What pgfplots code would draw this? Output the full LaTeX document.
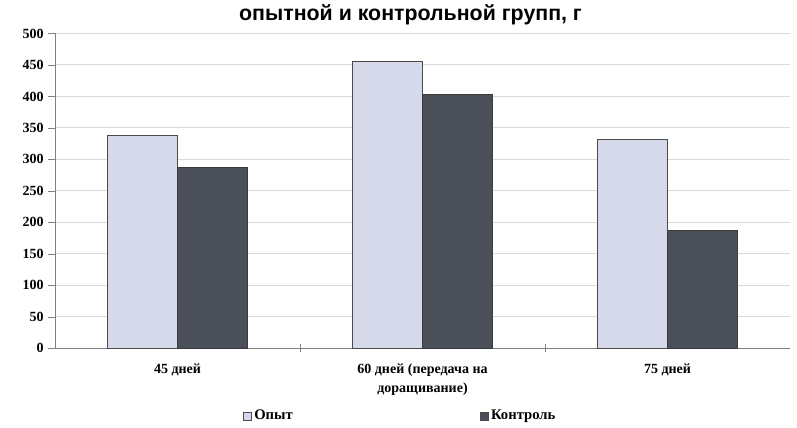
\documentclass[border=0pt]{standalone}
\usepackage{pgfplots}
\pgfplotsset{compat=1.18}
\usepackage{fontspec}
\setmainfont{Liberation Serif}
\newfontfamily\titlefont{Liberation Sans}
\definecolor{opyt}{HTML}{D5D9EA}
\definecolor{kontr}{HTML}{4B4F5A}
\definecolor{edge}{HTML}{4A4A4A}
\begin{document}
\begin{tikzpicture}
\begin{axis}[
  scale only axis,
  width=551pt, height=236pt,
  ybar=0pt, bar width=0.2857,
  xmin=-0.5, xmax=2.5,
  ymin=0, ymax=500,
  ytick={0,50,...,500},
  xtick={0,1,2},
  xticklabels={45 дней, 60 дней (передача на\\доращивание), 75 дней},
  xticklabel style={align=center, font=\bfseries\fontsize{10.5}{14}\selectfont, yshift=-3pt},
  yticklabel style={font=\bfseries\fontsize{10.5}{12}\selectfont},
  /pgf/number format/assume math mode=true,
  axis lines*=left,
  axis line style={gray},
  x axis line style={-}, y axis line style={-},
  tick style={gray},
  tick align=outside,
  major tick length=5pt,
  x tick style={draw=none},
  extra x ticks={0.5,1.5},
  extra x tick labels={},
  extra x tick style={x tick style={draw=gray}, tick align=center, major tick length=6pt, grid=none},
  ymajorgrids,
  grid style={gray!28, line width=0.7pt},
  legend columns=2,
  legend style={draw=none, fill=none, at={(0.47,-0.215)}, anchor=center,
    font=\bfseries\fontsize{11}{12}\selectfont,
    /tikz/every even column/.append style={column sep=138pt}},
  legend image code/.code={\draw[#1, draw=edge] (0pt,-3pt) rectangle (6pt,3pt);},
]
\addplot[fill=opyt, draw=edge, line width=0.6pt] coordinates {(0,338) (1,456) (2,332)};
\addplot[fill=kontr, draw=edge!80!black, line width=0.6pt] coordinates {(0,287) (1,403) (2,187)};
\legend{Опыт, Контроль}
\end{axis}
\node[anchor=south, font=\titlefont\bfseries\fontsize{16}{18}\selectfont] at ([xshift=-9pt, yshift=3pt]current axis.north) {опытной и контрольной групп, г};
\path ([shift={(-41.25pt,-59.25pt)}]current axis.south west) rectangle ([shift={(5.25pt,22pt)}]current axis.north east);
\end{tikzpicture}
\end{document}
